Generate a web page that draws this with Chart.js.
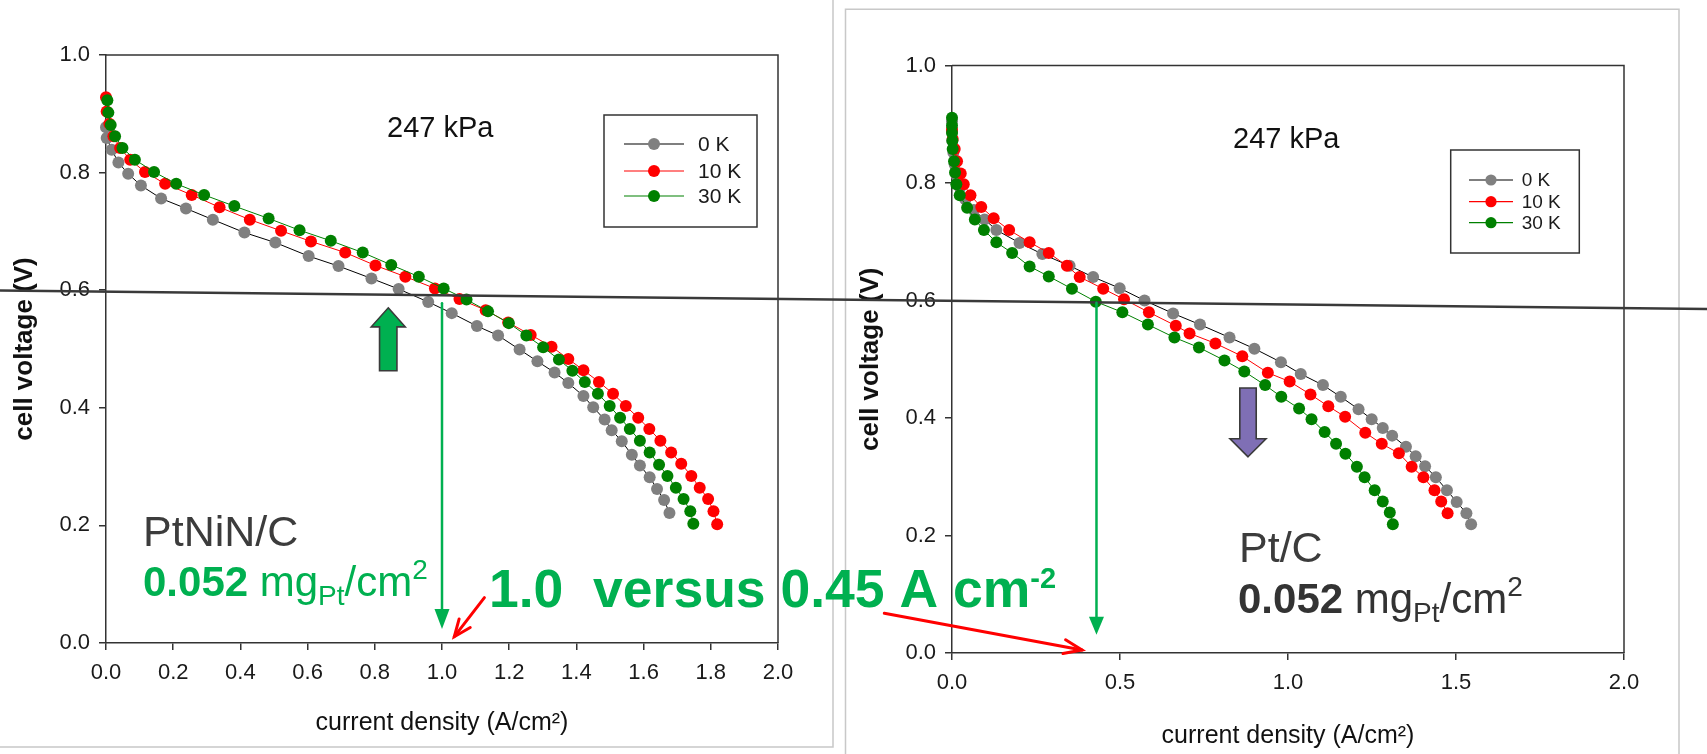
<!DOCTYPE html>
<html>
<head>
<meta charset="utf-8">
<title>Polarization curves</title>
<script src="https://cdn.jsdelivr.net/npm/chart.js@4.4.1/dist/chart.umd.min.js"></script>
<style>
  html, body { margin: 0; padding: 0; background: #fff; }
  #page { position: relative; width: 1707px; height: 754px; overflow: hidden; background: #fff; }
  #page canvas { position: absolute; top: 0; }
  #leftChart { left: 0; }
  #rightChart { left: 846px; }
  #overlay { left: 0; pointer-events: none; }
</style>
</head>
<body>
<div id="page">
  <canvas id="leftChart" width="833" height="747"></canvas>
  <canvas id="rightChart" width="861" height="754"></canvas>
  <canvas id="overlay" width="1707" height="754"></canvas>
</div>
<script>
// series names and colours
const seriesLabels = ["0 K", "10 K", "30 K"];
const seriesLine = ["#000000", "#ff0000", "#008000"];
const seriesMarker = ["#808080", "#ff0000", "#008000"];
const pressureLabel = "247 kPa";

// PtNiN/C: current density (A/cm2) and cell voltage (V)
const ptninCurrent0K = [0, 0.002, 0.017, 0.037, 0.066, 0.104, 0.164, 0.238, 0.318, 0.412, 0.504, 0.603, 0.692, 0.790, 0.871, 0.959, 1.029, 1.104, 1.167, 1.231, 1.284, 1.335, 1.376, 1.421, 1.450, 1.484, 1.505, 1.535, 1.565, 1.589, 1.618, 1.640, 1.661, 1.677];
const ptninVoltage0K = [0.877, 0.859, 0.839, 0.817, 0.798, 0.778, 0.756, 0.739, 0.720, 0.698, 0.681, 0.658, 0.641, 0.620, 0.602, 0.580, 0.561, 0.539, 0.523, 0.499, 0.479, 0.460, 0.442, 0.420, 0.401, 0.380, 0.362, 0.343, 0.320, 0.302, 0.282, 0.262, 0.243, 0.221];
const ptninCurrent10K = [0, 0.002, 0.010, 0.022, 0.042, 0.072, 0.116, 0.176, 0.255, 0.338, 0.428, 0.521, 0.610, 0.712, 0.802, 0.891, 0.979, 1.052, 1.130, 1.197, 1.264, 1.326, 1.376, 1.421, 1.467, 1.509, 1.547, 1.584, 1.617, 1.650, 1.682, 1.712, 1.742, 1.767, 1.792, 1.808, 1.819];
const ptninVoltage10K = [0.928, 0.904, 0.883, 0.862, 0.842, 0.822, 0.801, 0.781, 0.762, 0.741, 0.720, 0.701, 0.683, 0.664, 0.642, 0.623, 0.603, 0.585, 0.566, 0.545, 0.524, 0.504, 0.483, 0.464, 0.444, 0.424, 0.403, 0.383, 0.364, 0.344, 0.324, 0.305, 0.284, 0.264, 0.245, 0.224, 0.202];
const ptninCurrent30K = [0.004, 0.007, 0.014, 0.027, 0.049, 0.086, 0.143, 0.209, 0.292, 0.382, 0.484, 0.576, 0.669, 0.764, 0.849, 0.931, 1.005, 1.073, 1.137, 1.199, 1.251, 1.301, 1.348, 1.388, 1.425, 1.464, 1.499, 1.530, 1.559, 1.589, 1.618, 1.646, 1.671, 1.696, 1.719, 1.739, 1.748];
const ptninVoltage30K = [0.923, 0.902, 0.881, 0.862, 0.842, 0.822, 0.801, 0.781, 0.762, 0.743, 0.722, 0.702, 0.684, 0.664, 0.643, 0.623, 0.603, 0.584, 0.564, 0.544, 0.523, 0.503, 0.482, 0.463, 0.444, 0.424, 0.403, 0.383, 0.364, 0.344, 0.324, 0.303, 0.284, 0.264, 0.245, 0.224, 0.203];

// Pt/C: current density (A/cm2) and cell voltage (V)
const ptcCurrent0K = [0, 0, 0.001, 0.004, 0.008, 0.014, 0.024, 0.040, 0.065, 0.097, 0.132, 0.201, 0.269, 0.350, 0.420, 0.499, 0.573, 0.658, 0.738, 0.826, 0.900, 0.979, 1.038, 1.104, 1.157, 1.210, 1.249, 1.282, 1.310, 1.351, 1.380, 1.408, 1.440, 1.473, 1.502, 1.531, 1.545];
const ptcVoltage0K = [0.905, 0.890, 0.872, 0.852, 0.832, 0.812, 0.792, 0.772, 0.754, 0.738, 0.720, 0.698, 0.679, 0.659, 0.640, 0.621, 0.600, 0.578, 0.559, 0.537, 0.518, 0.495, 0.475, 0.456, 0.436, 0.415, 0.398, 0.383, 0.370, 0.351, 0.335, 0.318, 0.299, 0.277, 0.257, 0.238, 0.219];
const ptcCurrent10K = [0, 0.002, 0.008, 0.015, 0.026, 0.035, 0.055, 0.087, 0.124, 0.170, 0.231, 0.288, 0.342, 0.380, 0.450, 0.512, 0.586, 0.666, 0.707, 0.784, 0.864, 0.940, 1.005, 1.067, 1.120, 1.170, 1.230, 1.279, 1.330, 1.368, 1.403, 1.436, 1.456, 1.475];
const ptcVoltage10K = [0.891, 0.875, 0.858, 0.837, 0.816, 0.798, 0.779, 0.759, 0.740, 0.720, 0.699, 0.681, 0.659, 0.640, 0.620, 0.602, 0.580, 0.557, 0.544, 0.527, 0.505, 0.477, 0.462, 0.440, 0.420, 0.402, 0.375, 0.356, 0.340, 0.317, 0.299, 0.277, 0.258, 0.238];
const ptcCurrent30K = [0, 0, 0, 0.001, 0.002, 0.006, 0.009, 0.013, 0.023, 0.045, 0.068, 0.095, 0.132, 0.179, 0.231, 0.288, 0.357, 0.428, 0.507, 0.583, 0.662, 0.735, 0.811, 0.870, 0.932, 0.980, 1.033, 1.070, 1.109, 1.143, 1.171, 1.205, 1.228, 1.258, 1.282, 1.303, 1.312];
const ptcVoltage30K = [0.911, 0.898, 0.885, 0.872, 0.858, 0.837, 0.818, 0.798, 0.779, 0.758, 0.738, 0.720, 0.699, 0.681, 0.658, 0.641, 0.620, 0.598, 0.580, 0.559, 0.537, 0.520, 0.498, 0.479, 0.456, 0.436, 0.416, 0.398, 0.376, 0.356, 0.339, 0.317, 0.299, 0.277, 0.258, 0.239, 0.219];

const ptninCurrentAt06 = 1.0;
const ptcCurrentAt06 = 0.43;

const FONT = "'Liberation Sans', Arial, sans-serif";
Chart.defaults.font.family = FONT;
Chart.defaults.color = "#1a1a1a";

function makeDatasets(currents, voltages) {
  return currents.map((xs, i) => ({
    label: seriesLabels[i],
    data: xs.map((x, j) => ({ x: x, y: voltages[i][j] })),
    showLine: true,
    borderColor: seriesLine[i],
    borderWidth: 1,
    backgroundColor: seriesMarker[i],
    pointBackgroundColor: seriesMarker[i],
    pointBorderColor: seriesMarker[i],
    pointBorderWidth: 0,
    pointRadius: 6,
    pointHoverRadius: 6,
    clip: false,
    order: 3 - i,
  }));
}

// closes the plot box on the top and right
const plotFrame = {
  id: "plotFrame",
  afterDraw(chart) {
    const { ctx, chartArea: a } = chart;
    ctx.save();
    ctx.strokeStyle = "#333";
    ctx.lineWidth = 1.5;
    ctx.beginPath();
    ctx.moveTo(a.left, a.top);
    ctx.lineTo(a.right, a.top);
    ctx.lineTo(a.right, a.bottom);
    ctx.stroke();
    ctx.restore();
  },
};

// boxed legend with a line + marker sample per series
const boxLegend = {
  id: "boxLegend",
  afterDraw(chart, args, opts) {
    const { ctx, chartArea: a } = chart;
    const x = a.left + opts.x;
    const y = a.top + opts.y;
    ctx.save();
    ctx.fillStyle = "#fff";
    ctx.fillRect(x, y, opts.w, opts.h);
    ctx.strokeStyle = "#333";
    ctx.lineWidth = 1.5;
    ctx.strokeRect(x, y, opts.w, opts.h);
    ctx.font = opts.fontSize + "px " + FONT;
    ctx.textBaseline = "middle";
    chart.data.datasets.forEach((ds, i) => {
      const ry = y + opts.rows[i];
      ctx.strokeStyle = ds.borderColor;
      ctx.lineWidth = 1.2;
      ctx.beginPath();
      ctx.moveTo(x + opts.lineFrom, ry);
      ctx.lineTo(x + opts.lineTo, ry);
      ctx.stroke();
      ctx.fillStyle = ds.pointBackgroundColor;
      ctx.beginPath();
      ctx.arc(x + (opts.lineFrom + opts.lineTo) / 2, ry, opts.r, 0, Math.PI * 2);
      ctx.fill();
      ctx.fillStyle = "#1a1a1a";
      ctx.fillText(ds.label, x + opts.textX, ry + 1);
    });
    ctx.restore();
  },
};

const headerText = {
  id: "headerText",
  afterDraw(chart, args, opts) {
    const { ctx, chartArea: a } = chart;
    ctx.save();
    ctx.font = "29px " + FONT;
    ctx.fillStyle = "#111";
    ctx.textBaseline = "alphabetic";
    ctx.fillText(opts.text, a.left + opts.x, a.top + opts.y);
    ctx.restore();
  },
};

function buildChart(id, currents, voltages, xStep, box, legendBox) {
  const axisGrid = { drawOnChartArea: false, drawTicks: true, tickLength: 7, color: "#333", lineWidth: 1.5 };
  const axisBorder = { display: true, color: "#333", width: 1.5 };
  return new Chart(document.getElementById(id), {
    type: "scatter",
    data: { datasets: makeDatasets(currents, voltages) },
    options: {
      responsive: false,
      animation: false,
      events: [],
      layout: { padding: box.padding },
      plugins: {
        legend: { display: false },
        tooltip: { enabled: false },
        boxLegend: legendBox,
        headerText: { text: pressureLabel, x: 281, y: 82 },
      },
      scales: {
        x: {
          type: "linear",
          min: 0,
          max: 2,
          grid: axisGrid,
          border: axisBorder,
          ticks: { stepSize: xStep, padding: 10, font: { size: 22 }, color: "#1a1a1a", callback: (v) => v.toFixed(1) },
          title: { display: true, text: "current density (A/cm²)", font: { size: 25 }, color: "#111", padding: { top: 0, bottom: box.xTitlePad } },
          afterFit: (s) => { s.height = box.xHeight; },
        },
        y: {
          type: "linear",
          min: 0,
          max: 1,
          grid: axisGrid,
          border: axisBorder,
          ticks: { stepSize: 0.2, padding: 9, font: { size: 22 }, color: "#1a1a1a", callback: (v) => v.toFixed(1) },
          title: { display: true, text: "cell voltage (V)", font: { size: 26, weight: "bold" }, color: "#111", padding: { top: 9, bottom: 0 } },
          afterFit: (s) => { s.width = 106; },
        },
      },
    },
    plugins: [plotFrame, boxLegend, headerText],
  });
}

const leftChart = buildChart(
  "leftChart",
  [ptninCurrent0K, ptninCurrent10K, ptninCurrent30K],
  [ptninVoltage0K, ptninVoltage10K, ptninVoltage30K],
  0.2,
  { padding: { left: 0, top: 55, right: 55, bottom: 0 }, xHeight: 104, xTitlePad: 9 },
  { x: 498, y: 60, w: 153, h: 112, rows: [29, 56, 81], lineFrom: 20, lineTo: 80, r: 6, textX: 94, fontSize: 21 }
);

const rightChart = buildChart(
  "rightChart",
  [ptcCurrent0K, ptcCurrent10K, ptcCurrent30K],
  [ptcVoltage0K, ptcVoltage10K, ptcVoltage30K],
  0.5,
  { padding: { left: 0, top: 65.5, right: 83, bottom: 0 }, xHeight: 101, xTitlePad: 3 },
  { x: 498.7, y: 84.5, w: 128.6, h: 103, rows: [30, 51.7, 72.7], lineFrom: 18.3, lineTo: 62.3, r: 5.6, textX: 71, fontSize: 19 }
);

// ---- annotations drawn over both panels ----
function arrowLine(ctx, x1, y1, x2, y2, color, width, headLen, headHalf, filled) {
  const ang = Math.atan2(y2 - y1, x2 - x1);
  const bx = x2 - headLen * Math.cos(ang);
  const by = y2 - headLen * Math.sin(ang);
  const nx = -Math.sin(ang) * headHalf;
  const ny = Math.cos(ang) * headHalf;
  ctx.save();
  ctx.strokeStyle = color;
  ctx.fillStyle = color;
  ctx.lineWidth = width;
  ctx.lineCap = "round";
  ctx.beginPath();
  ctx.moveTo(x1, y1);
  ctx.lineTo(filled ? bx : x2, filled ? by : y2);
  ctx.stroke();
  ctx.beginPath();
  if (filled) {
    ctx.moveTo(x2, y2);
    ctx.lineTo(bx + nx, by + ny);
    ctx.lineTo(bx - nx, by - ny);
    ctx.closePath();
    ctx.fill();
  } else {
    ctx.lineJoin = "miter";
    ctx.moveTo(bx + nx, by + ny);
    ctx.lineTo(x2, y2);
    ctx.lineTo(bx - nx, by - ny);
    ctx.stroke();
  }
  ctx.restore();
}

// block arrow: tip at (cx, tipY), tail at tailY
function blockArrow(ctx, cx, tipY, tailY, headLen, headHalf, shaftHalf, fill) {
  const dir = tailY > tipY ? 1 : -1;
  const baseY = tipY + dir * headLen;
  ctx.save();
  ctx.beginPath();
  ctx.moveTo(cx, tipY);
  ctx.lineTo(cx + headHalf, baseY);
  ctx.lineTo(cx + shaftHalf, baseY);
  ctx.lineTo(cx + shaftHalf, tailY);
  ctx.lineTo(cx - shaftHalf, tailY);
  ctx.lineTo(cx - shaftHalf, baseY);
  ctx.lineTo(cx - headHalf, baseY);
  ctx.closePath();
  ctx.fillStyle = fill;
  ctx.fill();
  ctx.strokeStyle = "#3a3a3a";
  ctx.lineWidth = 1.6;
  ctx.stroke();
  ctx.restore();
}

// text made of runs with their own font and baseline shift
function drawRuns(ctx, x, baseline, color, runs) {
  ctx.save();
  ctx.fillStyle = color;
  ctx.textBaseline = "alphabetic";
  let cx = x;
  runs.forEach((r) => {
    ctx.font = r.font + " " + FONT;
    ctx.fillText(r.t, cx, baseline + (r.dy || 0));
    cx += ctx.measureText(r.t).width;
  });
  ctx.restore();
}

function drawOverlay() {
  const ctx = document.getElementById("overlay").getContext("2d");
  const rightLeft = 846;
  const lx = (v) => leftChart.scales.x.getPixelForValue(v);
  const ly = (v) => leftChart.scales.y.getPixelForValue(v);
  const rx = (v) => rightLeft + rightChart.scales.x.getPixelForValue(v);
  const ry = (v) => rightChart.scales.y.getPixelForValue(v);
  const green = "#00b050";

  // panel outlines
  ctx.save();
  ctx.strokeStyle = "#c8c8c8";
  ctx.lineWidth = 1.5;
  ctx.beginPath();
  ctx.moveTo(833, 0);
  ctx.lineTo(833, 747);
  ctx.lineTo(0, 747);
  ctx.moveTo(845.5, 760);
  ctx.lineTo(845.5, 9.3);
  ctx.lineTo(1679, 9.3);
  ctx.lineTo(1679, 760);
  ctx.stroke();
  ctx.restore();

  // 0.6 V guide line across both panels
  ctx.save();
  ctx.strokeStyle = "#3a3a3a";
  ctx.lineWidth = 2.4;
  ctx.beginPath();
  ctx.moveTo(0, ly(0.5995));
  ctx.lineTo(1707, ry(0.5855));
  ctx.stroke();
  ctx.restore();

  // drop lines from 0.6 V down to the current axis
  arrowLine(ctx, lx(ptninCurrentAt06), ly(0.578), lx(ptninCurrentAt06), ly(0.024), green, 2.5, 20, 7.5, true);
  arrowLine(ctx, rx(ptcCurrentAt06), ry(0.596), rx(ptcCurrentAt06), ry(0.031), green, 2.5, 18, 7.5, true);

  // up / down block arrows
  blockArrow(ctx, lx(0.84), ly(0.570), ly(0.463), 19, 17, 8.7, green);
  blockArrow(ctx, rx(0.881), ry(0.334), ry(0.451), 18, 18, 8.2, "#7f6fb5");

  // red pointers
  arrowLine(ctx, 484.4, 597.7, 454.3, 636.7, "#ff0000", 3, 17, 7, false);
  arrowLine(ctx, 884.3, 613.3, 1082, 650, "#ff0000", 3, 18, 7, false);

  // catalyst labels
  drawRuns(ctx, 143, 546, "#3c3c3c", [{ t: "PtNiN/C", font: "43px" }]);
  drawRuns(ctx, 143, 596, green, [
    { t: "0.052", font: "bold 42px" },
    { t: " mg", font: "42px" },
    { t: "Pt", font: "28px", dy: 9 },
    { t: "/cm", font: "42px" },
    { t: "2", font: "28px", dy: -17 },
  ]);
  drawRuns(ctx, 1239, 562, "#3c3c3c", [{ t: "Pt/C", font: "43px" }]);
  drawRuns(ctx, 1238, 613, "#333", [
    { t: "0.052", font: "bold 42px" },
    { t: " mg", font: "42px" },
    { t: "Pt", font: "28px", dy: 9 },
    { t: "/cm", font: "42px" },
    { t: "2", font: "28px", dy: -17 },
  ]);

  drawRuns(ctx, 489, 607, green, [
    { t: "1.0  versus 0.45 A cm", font: "bold 53.5px" },
    { t: "-2", font: "bold 29px", dy: -19 },
  ]);
}

drawOverlay();
</script>
</body>
</html>
